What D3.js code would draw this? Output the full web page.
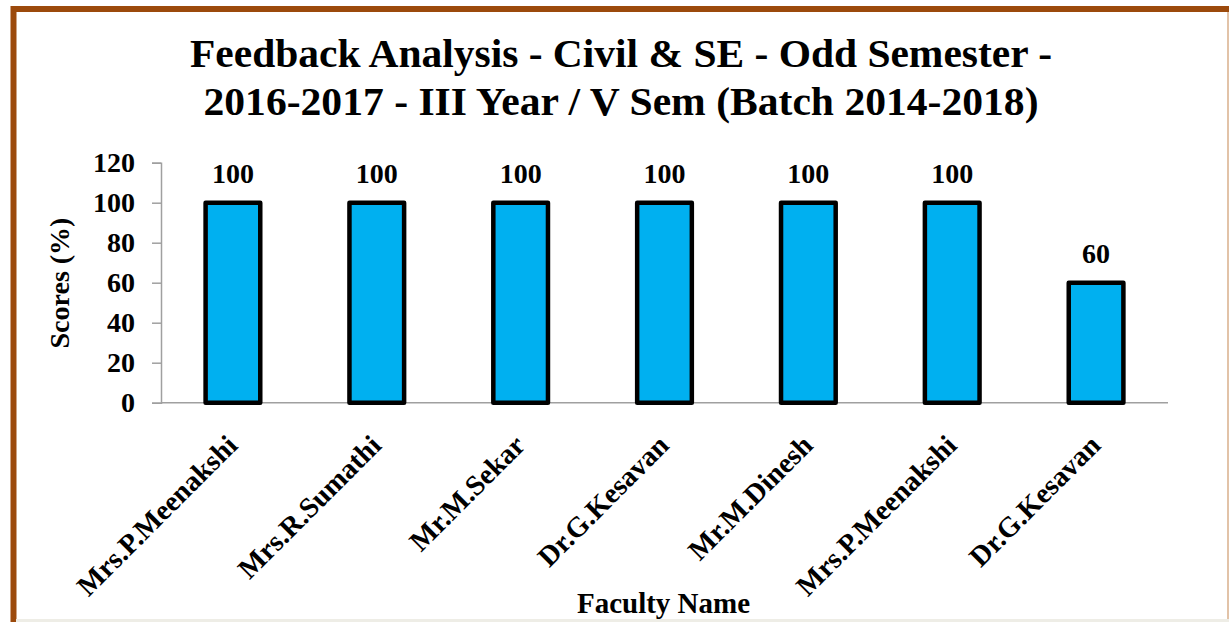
<!DOCTYPE html>
<html><head><meta charset="utf-8">
<script src="https://cdn.jsdelivr.net/npm/d3@7"></script>
<style>html,body{margin:0;padding:0;background:#fff;overflow:hidden}</style>
</head><body>
<svg id="c" width="1229" height="622"></svg>
<script>
const categories = ["Mrs.P.Meenakshi","Mrs.R.Sumathi","Mr.M.Sekar","Dr.G.Kesavan","Mr.M.Dinesh","Mrs.P.Meenakshi","Dr.G.Kesavan"];
const scores = [100,100,100,100,100,100,60];
const yTicks = [0,20,40,60,80,100,120];
const titleLines = ["Feedback Analysis - Civil & SE - Odd Semester -","2016-2017 - III Year / V Sem (Batch 2014-2018)"];
const yTitle = "Scores (%)";
const xTitle = "Faculty Name";

const font = "'Liberation Serif','Times New Roman',serif";
const svg = d3.select("#c");

// frame
svg.append("rect").attr("x",0).attr("y",0).attr("width",1229).attr("height",622).attr("fill","#fff");
svg.append("rect").attr("x",13.5).attr("y",9).attr("width",1230).attr("height",640)
  .attr("fill","#fff").attr("stroke","#9C4A0C").attr("stroke-width",6);
svg.append("line").attr("x1",1228).attr("x2",1228).attr("y1",12).attr("y2",622).attr("stroke","#E2C3A8").attr("stroke-width",2);
svg.append("rect").attr("x",16).attr("y",619).attr("width",1213).attr("height",3).attr("fill","#EEEDE6");

const x = d3.scaleBand().domain(d3.range(categories.length)).range([161,1168]).paddingInner(0.62).paddingOuter(0.31);
const y = d3.scaleLinear().domain([0,120]).range([402.7,162.7]);

// title
const titleWidths = [862, 835];
svg.append("g").selectAll("text").data(titleLines).join("text")
  .attr("x",621).attr("y",(d,i)=>66.5+i*48.5).attr("text-anchor","middle")
  .attr("font-family",font).attr("font-weight","bold").attr("font-size",40).attr("fill","#000")
  .attr("textLength",(d,i)=>titleWidths[i]).attr("lengthAdjust","spacingAndGlyphs")
  .text(d=>d);

// y axis
const ya = svg.append("g").attr("transform","translate(161,0)")
  .call(d3.axisLeft(y).tickValues(yTicks).tickSize(9).tickPadding(17));
ya.select(".domain").attr("stroke","#A0A0A0").attr("stroke-width",1.5);
ya.selectAll(".tick line").attr("stroke","#A0A0A0").attr("stroke-width",1.5);
ya.selectAll(".tick text").attr("font-family",font).attr("font-weight","bold").attr("font-size",28).attr("fill","#000");

// x axis line
svg.append("line").attr("x1",161).attr("x2",1168).attr("y1",y(0)).attr("y2",y(0)).attr("stroke","#A0A0A0").attr("stroke-width",1.5);

// bars
svg.append("g").selectAll("rect").data(scores).join("rect")
  .attr("x",(d,i)=>x(i)).attr("width",x.bandwidth())
  .attr("y",d=>y(d)).attr("height",d=>y(0)-y(d))
  .attr("fill","#00B0F0").attr("stroke","#000").attr("stroke-width",4.5).attr("stroke-linejoin","round");

// value labels
svg.append("g").selectAll("text").data(scores).join("text")
  .attr("x",(d,i)=>x(i)+x.bandwidth()/2).attr("y",d=>y(d)-20)
  .attr("text-anchor","middle").attr("font-family",font).attr("font-weight","bold").attr("font-size",28)
  .text(d=>d);

// x labels
svg.append("g").selectAll("text").data(categories).join("text")
  .attr("transform",(d,i)=>`translate(${x(i)+x.bandwidth()/2-1},440) rotate(-45)`)
  .attr("text-anchor","end").attr("dy","0.35em")
  .attr("font-family",font).attr("font-weight","bold").attr("font-size",28.5)
  .text(d=>d);

// axis titles
svg.append("text").attr("transform","translate(69,283) rotate(-90)").attr("text-anchor","middle")
  .attr("font-family",font).attr("font-weight","bold").attr("font-size",28).text(yTitle);
svg.append("text").attr("x",663.5).attr("y",613).attr("text-anchor","middle")
  .attr("font-family",font).attr("font-weight","bold").attr("font-size",29).text(xTitle);
</script>
</body></html>
